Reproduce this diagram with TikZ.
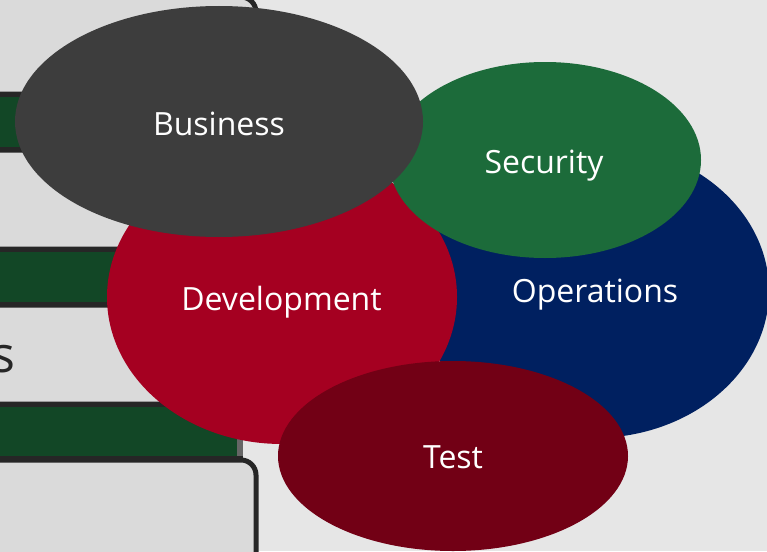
\documentclass[tikz,border=0pt]{standalone}
\usepackage{fontspec}
\setmainfont{Open Sans}
\usetikzlibrary{shapes.geometric}
\definecolor{bgc}{HTML}{E6E6E6}
\definecolor{boxc}{HTML}{DADADA}
\definecolor{edgec}{HTML}{262626}
\definecolor{barc}{HTML}{124726}
\definecolor{bizc}{HTML}{3D3D3D}
\definecolor{devc}{HTML}{A50021}
\definecolor{opsc}{HTML}{002060}
\definecolor{secc}{HTML}{1C6B3A}
\definecolor{testc}{HTML}{720015}
\tikzset{
  blob/.style={ellipse, inner sep=0pt, draw=none},
  lbl/.style={anchor=base, text=white, font=\fontsize{32}{38}\selectfont},
  panel/.style={draw=edgec, line width=5pt, fill=boxc, rounded corners=15pt},
  bar/.style={fill=barc, draw=edgec, line width=5pt}
}
\begin{document}
\begin{tikzpicture}[x=1pt,y=-1pt]
\useasboundingbox (0,0) rectangle (767,551);
\begin{scope}
\clip (0,0) rectangle (767,551);
\fill[bgc] (0,0) rectangle (767,551);
% left panels
\draw[panel] (-30,-3) rectangle (256,94);
\draw[panel] (-30,150) rectangle (256,249);
\draw[panel] (-30,305) rectangle (256,404);
\draw[panel] (-30,460) rectangle (256,580);
\draw[bar] (-30,94.5) rectangle (300,149.5);
\draw[bar] (-30,249.5) rectangle (300,304.5);
\fill[barc] (-30,404) rectangle (240,459);
\fill[gray!80!black] (237,407) rectangle (243,457);
\draw[edgec, line width=5pt] (-30,404.5) -- (243,404.5);
\draw[edgec, line width=5pt] (-30,458.5) -- (243,458.5);
\node[anchor=base east, text=edgec, font=\fontsize{50}{60}\selectfont, inner sep=0pt] (frag) at (16,372) {s};
% ellipses
\node[blob, fill=opsc, minimum width=350pt, minimum height=294pt] (ops) at (594,291) {};
\node[blob, fill=devc, minimum width=350pt, minimum height=294pt] (dev) at (282,297) {};
\node[blob, fill=secc, minimum width=312pt, minimum height=196pt] (sec) at (545,160) {};
\node[blob, fill=bizc, minimum width=408pt, minimum height=231pt] (biz) at (219,121.5) {};
\node[blob, fill=testc, minimum width=350pt, minimum height=190pt] (test) at (453,456) {};
\end{scope}
\node[lbl] (bizt) at (219,135) {Business};
\node[lbl] (devt) at (281.5,310) {Development};
\node[lbl] (sect) at (544,173) {Security};
\node[lbl] (opst) at (595,302) {Operations};
\node[lbl] (testt) at (453,468) {Test};
\end{tikzpicture}
\end{document}
